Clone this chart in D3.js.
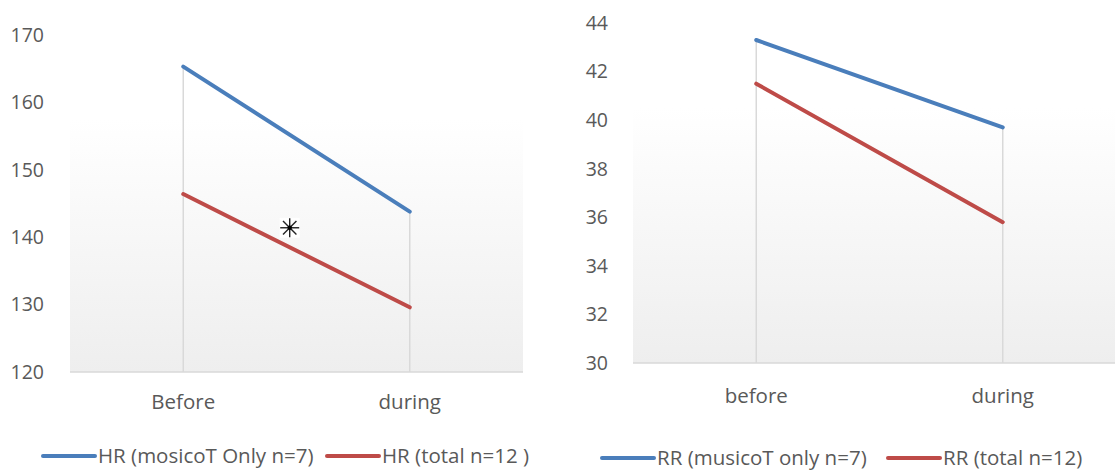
<!DOCTYPE html>
<html>
<head>
<meta charset="utf-8">
<script src="https://cdn.jsdelivr.net/npm/d3@7"></script>
<style>
  body { margin: 0; background: #fff; }
  text { font-family: "Open Sans", sans-serif; fill: #595959; }
</style>
</head>
<body>
<svg id="chart" width="1115" height="471"></svg>
<script>
// HR panel
var hrCategories = ["Before", "during"];
var hrMusico = [165.3, 143.8];
var hrTotal = [146.4, 129.6];
var hrTicks = [120, 130, 140, 150, 160, 170];
var hrLegend = ["HR (mosicoT Only n=7)", "HR (total n=12 )"];
var hrMarker = [{ x: 0.47, y: 141.4 }];

// RR panel
var rrCategories = ["before", "during"];
var rrMusico = [43.3, 39.7];
var rrTotal = [41.5, 35.8];
var rrTicks = [30, 32, 34, 36, 38, 40, 42, 44];
var rrLegend = ["RR (musicoT only n=7)", "RR (total n=12)"];

var colours = ["#4a7ebb", "#be4b48"];

var svg = d3.select("#chart");

var defs = svg.append("defs");
var grad = defs.append("linearGradient")
    .attr("id", "plotFill")
    .attr("x1", 0).attr("y1", 0).attr("x2", 0).attr("y2", 1);
grad.append("stop").attr("offset", "0%").attr("stop-color", "#ffffff");
grad.append("stop").attr("offset", "25%").attr("stop-color", "#ffffff");
grad.append("stop").attr("offset", "100%").attr("stop-color", "#eeeeee");

function drawPanel(opt) {
    var g = svg.append("g");

    var x = d3.scaleLinear().domain([-0.5, opt.categories.length - 0.5]).range([opt.left, opt.right]);
    var y = d3.scaleLinear().domain(d3.extent(opt.ticks)).range([opt.bottom, opt.top]);

    g.append("rect")
        .attr("x", opt.left).attr("y", opt.top)
        .attr("width", opt.right - opt.left).attr("height", opt.bottom - opt.top)
        .attr("fill", "url(#plotFill)");

    // y tick labels
    g.selectAll(".ytick")
        .data(opt.ticks)
        .enter().append("text")
        .attr("x", opt.labelX)
        .attr("y", function(d) { return y(d); })
        .attr("dy", "0.35em")
        .attr("text-anchor", "end")
        .style("font-size", "19.5px")
        .text(function(d) { return d; });

    // drop lines from the highest point down to the axis
    g.selectAll(".drop")
        .data(opt.categories)
        .enter().append("line")
        .attr("x1", function(d, i) { return x(i); })
        .attr("x2", function(d, i) { return x(i); })
        .attr("y1", function(d, i) { return y(Math.max(opt.series[0][i], opt.series[1][i])); })
        .attr("y2", opt.bottom)
        .attr("stroke", "#d9d9d9")
        .attr("stroke-width", 1.5);

    // x axis line
    g.append("line")
        .attr("x1", opt.left).attr("x2", opt.right)
        .attr("y1", opt.bottom).attr("y2", opt.bottom)
        .attr("stroke", "#d9d9d9")
        .attr("stroke-width", 1.5);

    g.selectAll(".xlab")
        .data(opt.categories)
        .enter().append("text")
        .attr("x", function(d, i) { return x(i); })
        .attr("y", opt.catY)
        .attr("dy", "0.35em")
        .attr("text-anchor", "middle")
        .style("font-size", "20.5px")
        .text(function(d) { return d; });

    var line = d3.line()
        .x(function(d, i) { return x(i); })
        .y(function(d) { return y(d); });

    g.selectAll(".series")
        .data(opt.series)
        .enter().append("path")
        .attr("d", line)
        .attr("fill", "none")
        .attr("stroke", function(d, i) { return colours[i]; })
        .attr("stroke-width", 4)
        .attr("stroke-linecap", "round");

    if (opt.markers) {
        opt.markers.forEach(function(m) {
            var cx = x(m.x), cy = y(m.y), r = 9.5;
            var mg = g.append("g").attr("transform", "translate(" + cx + "," + cy + ")");
            mg.append("rect").attr("x", -10).attr("y", -10).attr("width", 20).attr("height", 20).attr("fill", "#fff");
            [0, 45, 90, 135].forEach(function(a) {
                var rad = a * Math.PI / 180;
                mg.append("line")
                    .attr("x1", -r * Math.cos(rad)).attr("y1", -r * Math.sin(rad))
                    .attr("x2", r * Math.cos(rad)).attr("y2", r * Math.sin(rad))
                    .attr("stroke", "#222").attr("stroke-width", 1.4);
            });
            mg.append("circle").attr("r", 2.2).attr("fill", "#000");
        });
    }

    // legend
    var lg = g.append("g").attr("transform", "translate(0," + opt.legendY + ")");
    opt.legend.forEach(function(name, i) {
        var lx = opt.legendX[i];
        lg.append("line")
            .attr("x1", lx).attr("x2", lx + 52)
            .attr("y1", 0).attr("y2", 0)
            .attr("stroke", colours[i])
            .attr("stroke-width", 4)
            .attr("stroke-linecap", "round");
        lg.append("text")
            .attr("x", lx + 55)
            .attr("y", 0)
            .attr("dy", "0.35em")
            .style("font-size", "20.5px")
            .text(name);
    });
}

drawPanel({
    categories: hrCategories,
    series: [hrMusico, hrTotal],
    ticks: hrTicks,
    legend: hrLegend,
    markers: hrMarker,
    left: 70, right: 523, top: 35, bottom: 372,
    labelX: 44, catY: 402,
    legendY: 456, legendX: [43, 327]
});

drawPanel({
    categories: rrCategories,
    series: [rrMusico, rrTotal],
    ticks: rrTicks,
    legend: rrLegend,
    left: 633, right: 1126, top: 23, bottom: 363,
    labelX: 608, catY: 396,
    legendY: 458, legendX: [602, 888]
});
</script>
</body>
</html>
